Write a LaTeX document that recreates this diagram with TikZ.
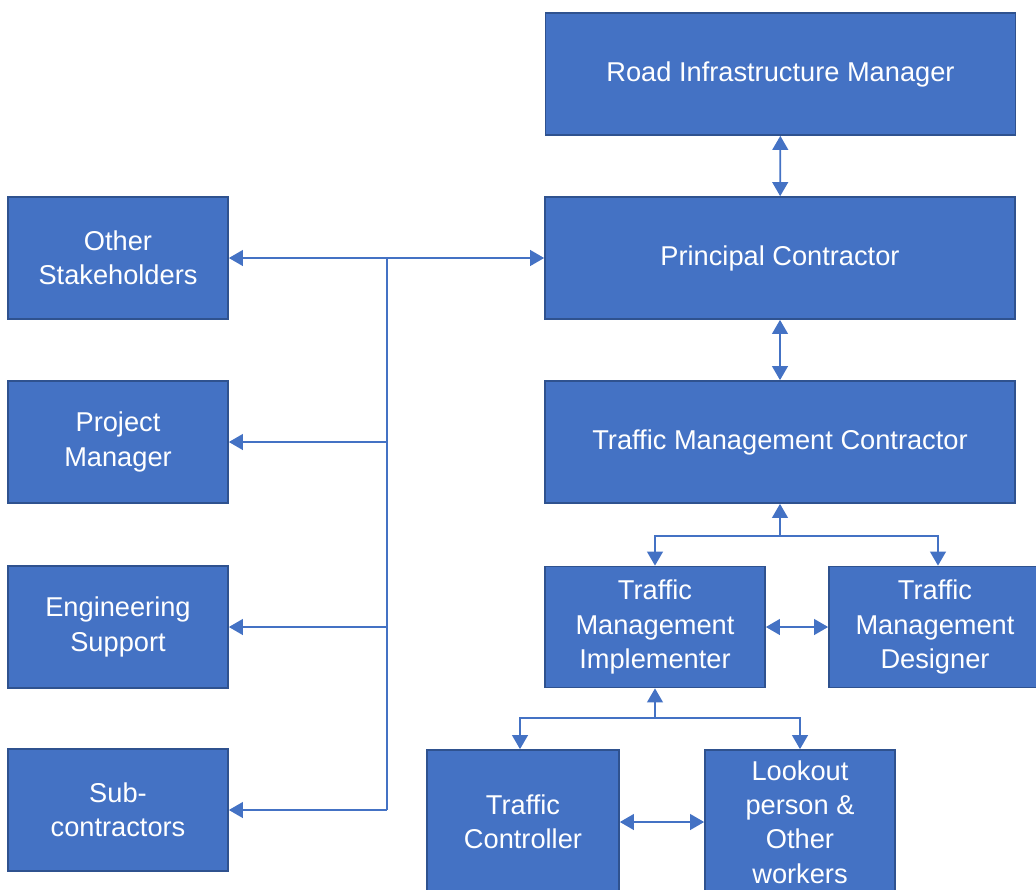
\documentclass[tikz,border=0pt]{standalone}
\usepackage{fontspec}
\setmainfont{Liberation Sans}
\usetikzlibrary{arrows.meta}
\definecolor{boxblue}{HTML}{4472C4}
\definecolor{edgeblue}{HTML}{2F528F}
\begin{document}
\begin{tikzpicture}
        [x=0.02cm, y=-0.02cm,
        every node/.style={draw=edgeblue,line width=1pt,fill=boxblue,text=white,align=center,inner sep=2pt,
          font=\fontsize{15.5}{19.5}\selectfont},
        wide/.style={minimum width=9.4cm,minimum height=2.44cm},
        side/.style={minimum width=4.4cm,minimum height=2.44cm},
        link/.style={draw=boxblue,line width=1pt,arrows={-Triangle[length=8pt,width=9pt]}},
        both/.style={link,arrows={Triangle[length=8pt,width=9pt]-Triangle[length=8pt,width=9pt]}},
        plain/.style={draw=boxblue,line width=1pt}]

        \useasboundingbox (0,0) rectangle (1036,890);

        \node[wide] (rim) at (780.5, 74) {Road Infrastructure Manager};
        \node[wide] (pc) at (780, 258) {Principal Contractor};
        \node[wide] (tmc) at (780, 442) {Traffic Management Contractor};
        \node[minimum width=4.4cm,minimum height=2.42cm] (tmi) at (655, 627) {Traffic\\Management\\Implementer};
        \node[minimum width=4.24cm,minimum height=2.42cm] (tmd) at (935, 627) {Traffic\\Management\\Designer};
        \node[minimum width=3.84cm,minimum height=2.88cm] (tc) at (523, 822) {Traffic\\Controller};
        \node[minimum width=3.8cm,minimum height=2.88cm] (lo) at (800, 822) {Lookout\\person \&\\Other\\workers};

        \node[side] (os) at (118, 258) {Other\\Stakeholders};
        \node[side] (pm) at (118, 442) {Project\\Manager};
        \node[side] (es) at (118, 627) {Engineering\\Support};
        \node[side] (sc) at (118, 810) {Sub-\\contractors};

        \coordinate (j1) at (387, 258);
        \coordinate (k1) at (780, 536);
        \coordinate (k2) at (655, 718);

        \draw[both] (rim) -- (pc);
        \draw[both] (pc) -- (tmc);
        \draw[both] (os) -- (pc);
        \draw[plain] (j1) -- (j1 |- sc.east);
        \draw[link] (pm.east -| j1) -- (pm.east);
        \draw[link] (es.east -| j1) -- (es.east);
        \draw[link] (sc.east -| j1) -- (sc.east);

        \draw[link] (k1) -- (tmc.south);
        \draw[link] (k1) -| (tmi.north);
        \draw[link] (k1) -| ([xshift=0.06cm]tmd.north);
        \draw[both] (tmi.east) -- (tmi.east -| tmd.west);

        \draw[link] (k2) -- (tmi.south);
        \draw[link] (k2) -| ([xshift=-0.06cm]tc.north);
        \draw[link] (k2) -| (lo.north);
        \draw[both] (tc.east) -- (tc.east -| lo.west);
      \end{tikzpicture}
\end{document}
